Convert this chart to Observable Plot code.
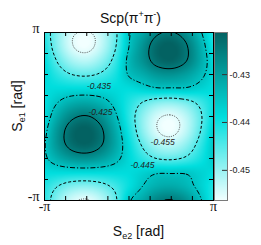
<!DOCTYPE html>
<html><head><meta charset="utf-8">
<script src="https://cdn.jsdelivr.net/npm/d3@7"></script>
<script src="https://cdn.jsdelivr.net/npm/@observablehq/plot@0.6"></script>
<style>
html,body{margin:0;padding:0;background:#fff;}
#wrap{position:relative;width:261px;height:245px;overflow:hidden;font-family:"Liberation Sans",Arial,sans-serif;color:#111;}
#wrap svg{position:absolute;}
.lbl{position:absolute;font-size:14px;line-height:16px;white-space:nowrap;text-align:center;}
.lbl sub{font-size:9px;vertical-align:-3px;line-height:0;}
.lbl sup{font-size:9px;vertical-align:6px;line-height:0;}
</style></head>
<body>
<div id="wrap">
  <div class="lbl" id="title" style="left:0;top:10px;width:261px;">Scp(π<sup>+</sup>π<sup>-</sup>)</div>
  <div class="lbl" id="xlab" style="left:8px;top:223px;width:261px;">S<sub>e2</sub> [rad]</div>
  <div class="lbl" id="ylab" style="left:-43px;top:98px;width:120px;transform:rotate(-90deg);transform-origin:50% 50%;">S<sub>e1</sub> [rad]</div>
</div>
<script>
const PI = Math.PI;

// grid of Scp values (rows: y from +180° down to -180°; columns: x from -180° to +180°)
const gridXDeg = [-180, -150, -120, -90, -60, -30, 0, 30, 60, 90, 120, 150, 180];
const gridYDeg = [180, 150, 120, 90, 60, 30, 0, -30, -60, -90, -120, -150, -180];
const scpRows = [
  [-0.4417, -0.4491, -0.4541, -0.4554, -0.4525, -0.4463, -0.4359, -0.4310, -0.4260, -0.4247, -0.4276, -0.4338, -0.4417],
  [-0.4404, -0.4490, -0.4548, -0.4562, -0.4529, -0.4457, -0.4350, -0.4280, -0.4222, -0.4208, -0.4241, -0.4313, -0.4404],
  [-0.4386, -0.4460, -0.4510, -0.4523, -0.4494, -0.4432, -0.4334, -0.4279, -0.4229, -0.4216, -0.4245, -0.4307, -0.4386],
  [-0.4379, -0.4422, -0.4451, -0.4458, -0.4442, -0.4406, -0.4345, -0.4317, -0.4288, -0.4281, -0.4298, -0.4333, -0.4379],
  [-0.4385, -0.4385, -0.4385, -0.4385, -0.4385, -0.4385, -0.4385, -0.4370, -0.4355, -0.4355, -0.4355, -0.4370, -0.4385],
  [-0.4391, -0.4348, -0.4319, -0.4312, -0.4328, -0.4364, -0.4410, -0.4453, -0.4482, -0.4489, -0.4472, -0.4437, -0.4391],
  [-0.4384, -0.4310, -0.4260, -0.4247, -0.4276, -0.4338, -0.4417, -0.4491, -0.4541, -0.4554, -0.4525, -0.4463, -0.4384],
  [-0.4366, -0.4280, -0.4222, -0.4208, -0.4241, -0.4313, -0.4404, -0.4490, -0.4548, -0.4562, -0.4529, -0.4457, -0.4366],
  [-0.4354, -0.4279, -0.4229, -0.4216, -0.4245, -0.4307, -0.4386, -0.4460, -0.4510, -0.4523, -0.4494, -0.4432, -0.4354],
  [-0.4360, -0.4317, -0.4288, -0.4281, -0.4298, -0.4333, -0.4379, -0.4422, -0.4451, -0.4458, -0.4442, -0.4406, -0.4360],
  [-0.4385, -0.4385, -0.4385, -0.4385, -0.4385, -0.4385, -0.4385, -0.4370, -0.4355, -0.4355, -0.4355, -0.4370, -0.4385],
  [-0.4410, -0.4453, -0.4482, -0.4489, -0.4472, -0.4437, -0.4391, -0.4348, -0.4319, -0.4312, -0.4328, -0.4364, -0.4410],
  [-0.4417, -0.4491, -0.4541, -0.4554, -0.4525, -0.4463, -0.4359, -0.4310, -0.4260, -0.4247, -0.4276, -0.4338, -0.4417]
];

// contour levels and their labels (label anchors in radians)
const contourLevels = [-0.425, -0.435, -0.445, -0.455];
const labelText = ["-0.435", "-0.425", "-0.455", "-0.445"];
const labelX = [-1.12, -1.06, 1.25, 0.50];
const labelY = [1.13, 0.17, -0.955, -1.83];

// colour bar
const colorMin = -0.4563, colorMid = -0.4388, colorMax = -0.4212;
const colorbarTicks = [-0.45, -0.44, -0.43];

// axes
const axisTickDeg = [-180, 0, 180];
const axisTickText = ["-π", "0", "π"];
const minorTickDeg = [-180, -135, -90, -45, 0, 45, 90, 135, 180];

// ---------- rendering ----------
const rad = d => d * PI / 180;
const N = gridXDeg.length - 1; // periodic samples
const stepRad = rad(gridXDeg[1] - gridXDeg[0]);
const rowsUp = scpRows.slice().reverse();
const wrapI = i => ((i % N) + N) % N;
const cr = (p0, p1, p2, p3, t) =>
  0.5 * (2 * p1 + (p2 - p0) * t + (2 * p0 - 5 * p1 + 4 * p2 - p3) * t * t + (3 * p1 - p0 - 3 * p2 + p3) * t * t * t);
function field(x, y) {
  const tx = (x - rad(gridXDeg[0])) / stepRad, ty = (y - rad(gridYDeg[gridYDeg.length - 1])) / stepRad;
  const ix = Math.floor(tx), iy = Math.floor(ty);
  const fx = tx - ix, fy = ty - iy;
  const col = k => {
    const r = rowsUp[wrapI(iy + k)];
    return cr(r[wrapI(ix - 1)], r[wrapI(ix)], r[wrapI(ix + 1)], r[wrapI(ix + 2)], fx);
  };
  return cr(col(-1), col(0), col(1), col(2), fy);
}

const lineStyle = {
  "-0.425": {stroke: "#000", dash: null},
  "-0.435": {stroke: "#000", dash: "5,2,1.2,2"},
  "-0.445": {stroke: "#000", dash: "3,2"},
  "-0.455": {stroke: "#555", dash: "1,1.2"}
};

const W = 261, H = 245, mL = 44, mR = 48, mT = 32, mB = 45;
const innerW = W - mL - mR, innerH = H - mT - mB;
const colorOpts = {type: "linear", domain: [colorMin, colorMid, colorMax], range: ["#f2ffff", "#00dede", "#036262"], clamp: true};
const x0 = rad(gridXDeg[0]), x1 = rad(gridXDeg[gridXDeg.length - 1]);
const y0 = rad(gridYDeg[gridYDeg.length - 1]), y1 = rad(gridYDeg[0]);
const minor = minorTickDeg.map(rad);
const axisTicks = axisTickDeg.map(rad);
const labels = labelText.map((t, i) => ({t, x: labelX[i], y: labelY[i]}));
const serif = '"Liberation Serif", "DejaVu Serif", serif';

const main = Plot.plot({
  width: W, height: H,
  marginLeft: mL, marginRight: mR, marginTop: mT, marginBottom: mB,
  x: {domain: [x0, x1], axis: null},
  y: {domain: [y0, y1], axis: null},
  color: colorOpts,
  style: {fontFamily: '"Liberation Sans", Arial, sans-serif', background: "transparent", color: "#111"},
  marks: [
    Plot.raster({x1: x0, x2: x1, y1: y0, y2: y1, fill: field, pixelSize: 1}),
    ...contourLevels.map(level => {
      const s = lineStyle[String(level)];
      return Plot.contour({x1: x0, x2: x1, y1: y0, y2: y1, value: field, thresholds: [level],
        fill: "none", stroke: s.stroke, strokeWidth: 1, strokeDasharray: s.dash, pixelSize: 1});
    }),
    Plot.text(labels, {x: "x", y: "y", text: "t", fontSize: 8.5, fontStyle: "italic", fill: "#222"}),
    Plot.tickX(minor, {x: d => d, insetTop: innerH - 4, stroke: "#000"}),
    Plot.tickX(minor, {x: d => d, insetBottom: innerH - 4, stroke: "#000"}),
    Plot.tickY(minor, {y: d => d, insetRight: innerW - 4, stroke: "#000"}),
    Plot.tickY(minor, {y: d => d, insetLeft: innerW - 4, stroke: "#000"}),
    Plot.frame({stroke: "#000"}),
    Plot.text([axisTicks[0], axisTicks[2]], {x: d => d, text: (d, i) => axisTickText[i * 2], frameAnchor: "bottom", dy: 10, fontSize: 14, fontFamily: serif, fill: "#111"}),
    Plot.text([axisTicks[1]], {x: d => d, text: axisTickText[1], frameAnchor: "bottom", dy: 12, fontSize: 12, fill: "#111"}),
    Plot.text([axisTicks[0], axisTicks[2]], {y: d => d, text: (d, i) => axisTickText[i * 2], frameAnchor: "left", textAnchor: "end", dx: -5, dy: -4, fontSize: 14, fontFamily: serif, fill: "#111"}),
    Plot.text([axisTicks[1]], {y: d => d, text: axisTickText[1], frameAnchor: "left", textAnchor: "end", dx: -7, dy: 2.5, fontSize: 12, fill: "#111"})
  ]
});
main.style.left = "0px"; main.style.top = "0px";

const cbW = 13, cbLabel = 34, cbPad = 5;
const bar = Plot.plot({
  width: cbW + cbLabel, height: innerH + 2 * cbPad,
  marginLeft: 0, marginRight: cbLabel, marginTop: cbPad, marginBottom: cbPad,
  x: {domain: [0, 1], axis: null},
  y: {domain: [colorMin, colorMax], axis: null},
  color: colorOpts,
  style: {fontFamily: '"Liberation Sans", Arial, sans-serif', background: "transparent"},
  marks: [
    Plot.raster({x1: 0, x2: 1, y1: colorMin, y2: colorMax, fill: (x, y) => y, pixelSize: 1}),
    Plot.frame({stroke: "#7a7a7a"}),
    Plot.tickY(colorbarTicks, {y: d => d, insetLeft: 8, stroke: "#333"}),
    Plot.text(colorbarTicks, {y: d => d, text: d => d.toFixed(2), frameAnchor: "right", textAnchor: "start", dx: 2, fontSize: 9, fill: "#222"})
  ]
});
bar.style.left = (W - mR + 1) + "px"; bar.style.top = (mT - cbPad) + "px";

const wrap = document.getElementById("wrap");
wrap.insertBefore(main, wrap.firstChild);
wrap.appendChild(bar);
</script>
</body></html>
